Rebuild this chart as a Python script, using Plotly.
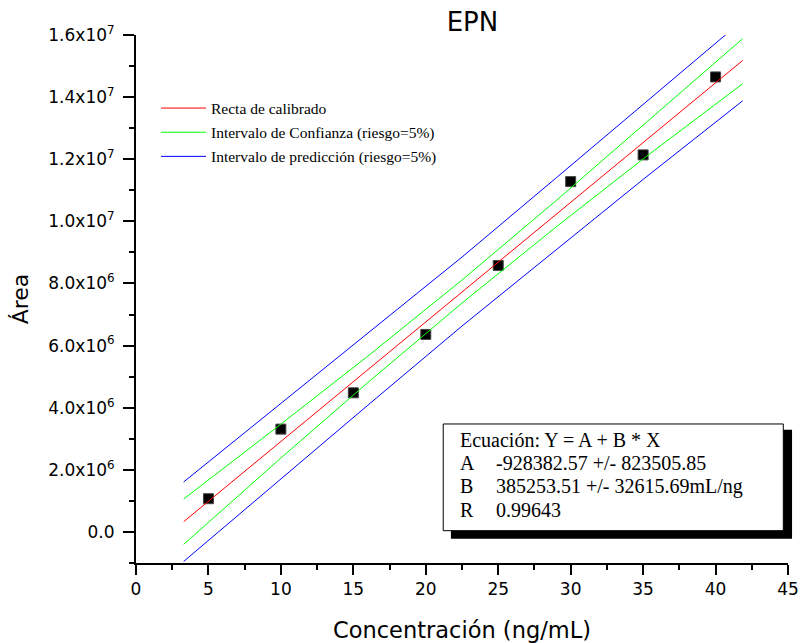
import plotly.graph_objects as go

# ---- data ----
conc = [5, 10, 15, 20, 25, 30, 35, 40]
area = [1.07e6, 3.31e6, 4.48e6, 6.36e6, 8.58e6, 11.28e6, 12.14e6, 14.65e6]

fit_x = [3.29, 41.87]
fit_y = [0.33e6, 15.18e6]

band_x = [3.29, 10, 16, 22.5, 29, 35, 41.87]
conf_upper = [1.06e6, 3.47e6, 5.66e6, 8.11e6, 10.67e6, 13.10e6, 15.88e6]
conf_lower = [-0.40e6, 2.38e6, 4.81e6, 7.37e6, 9.82e6, 12.01e6, 14.43e6]
pred_upper = [1.61e6, 4.13e6, 6.39e6, 8.85e6, 11.40e6, 13.76e6, 16.47e6]
pred_lower = [-0.95e6, 1.72e6, 4.08e6, 6.63e6, 9.09e6, 11.35e6, 13.88e6]

x_ticks = [0, 5, 10, 15, 20, 25, 30, 35, 40, 45]
y_tickvals = [0, 2e6, 4e6, 6e6, 8e6, 10e6, 12e6, 14e6, 16e6]
y_ticktext = ["0.0", "2.0x10<sup>6</sup>", "4.0x10<sup>6</sup>", "6.0x10<sup>6</sup>",
              "8.0x10<sup>6</sup>", "1.0x10<sup>7</sup>", "1.2x10<sup>7</sup>",
              "1.4x10<sup>7</sup>", "1.6x10<sup>7</sup>"]

eq_labels = ["A", "B", "R"]
eq_values = ["-928382.57 +/- 823505.85", "385253.51 +/- 32615.69mL/ng", "0.99643"]

fig = go.Figure()

fig.add_trace(go.Scatter(
    x=conc, y=area, mode="markers", showlegend=False,
    marker=dict(symbol="square", size=10, color="black",
                line=dict(color="#444", width=1))))

fig.add_trace(go.Scatter(
    x=fit_x, y=fit_y, mode="lines", name="Recta de calibrado",
    legendgroup="g1", line=dict(color="#FF0000", width=1)))

fig.add_trace(go.Scatter(
    x=band_x + [None] + band_x, y=conf_upper + [None] + conf_lower,
    mode="lines", name="Intervalo de Confianza (riesgo=5%)",
    legendgroup="g2", line=dict(color="#00FF00", width=1)))

fig.add_trace(go.Scatter(
    x=band_x + [None] + band_x, y=pred_upper + [None] + pred_lower,
    mode="lines", name="Intervalo de predicción (riesgo=5%)",
    legendgroup="g3", line=dict(color="#0000FF", width=1)))

axis_font = dict(family="DejaVu Sans", size=17, color="black")

fig.update_layout(
    width=801, height=643,
    margin=dict(l=136, r=13, t=35, b=80, autoexpand=False),
    paper_bgcolor="white", plot_bgcolor="white",
    title=dict(text="EPN", x=0.516, xanchor="center", xref="paper",
               y=1 - 22 / 643, yanchor="middle", automargin=False,
               font=dict(family="DejaVu Sans", size=26, color="black")),
    xaxis=dict(range=[0, 45], tickvals=x_ticks, showgrid=False, zeroline=False,
               automargin=False,
               showline=True, linecolor="black", linewidth=2,
               ticks="outside", ticklen=10, tickwidth=2, tickcolor="black",
               tickfont=axis_font,
               minor=dict(dtick=2.5, tick0=0, ticks="outside", ticklen=5,
                          tickwidth=2, tickcolor="black", showgrid=False),
               title=dict(text="Concentración (ng/mL)",
                          font=dict(family="DejaVu Sans", size=22.5, color="black"),
                          standoff=24)),
    yaxis=dict(range=[-1e6, 16e6], tickvals=y_tickvals, ticktext=y_ticktext,
               showgrid=False, zeroline=False, automargin=False,
               showline=True, linecolor="black", linewidth=2,
               ticks="outside", ticklen=11, tickwidth=2, tickcolor="black",
               tickfont=axis_font, ticklabelstandoff=5,
               minor=dict(dtick=1e6, tick0=0, ticks="outside", ticklen=5,
                          tickwidth=2, tickcolor="black", showgrid=False),
               title=dict(text="Área",
                          font=dict(family="DejaVu Sans", size=22, color="black"),
                          standoff=14)),
    legend=dict(x=0.0307, y=0.893, xanchor="left", yanchor="top",
                bgcolor="rgba(0,0,0,0)", borderwidth=0,
                traceorder="grouped", tracegroupgap=1,
                font=dict(family="Liberation Serif", size=15.5, color="black"),
                itemwidth=45),
)

# equation box with drop shadow
fig.add_shape(type="rect", xref="paper", yref="paper",
              x0=0.483, x1=1.0062, y0=0.046, y1=0.2525,
              fillcolor="black", line=dict(width=0), layer="above")
fig.add_shape(type="rect", xref="paper", yref="paper",
              x0=0.4712, x1=0.9928, y0=0.0612, y1=0.2633,
              fillcolor="white", line=dict(color="black", width=1), layer="above")

box_font = dict(family="Liberation Serif", size=20, color="black")
fig.add_annotation(xref="paper", yref="paper", x=0.4942, y=0.2335,
                   text="Ecuación: Y = A + B * X", showarrow=False,
                   xanchor="left", yanchor="middle", font=box_font)
row_y = [0.1893, 0.1451, 0.1009]
for lab, val, yy in zip(eq_labels, eq_values, row_y):
    fig.add_annotation(xref="paper", yref="paper", x=0.4942, y=yy, text=lab,
                       showarrow=False, xanchor="left", yanchor="middle", font=box_font)
    fig.add_annotation(xref="paper", yref="paper", x=0.5494, y=yy, text=val,
                       showarrow=False, xanchor="left", yanchor="middle", font=box_font)

# remove the default page margin so the figure sits at the window's corner
fig.write_html("out.html", config={"displayModeBar": False},
               post_script="document.body.style.margin='0';document.body.style.overflow='hidden';")
